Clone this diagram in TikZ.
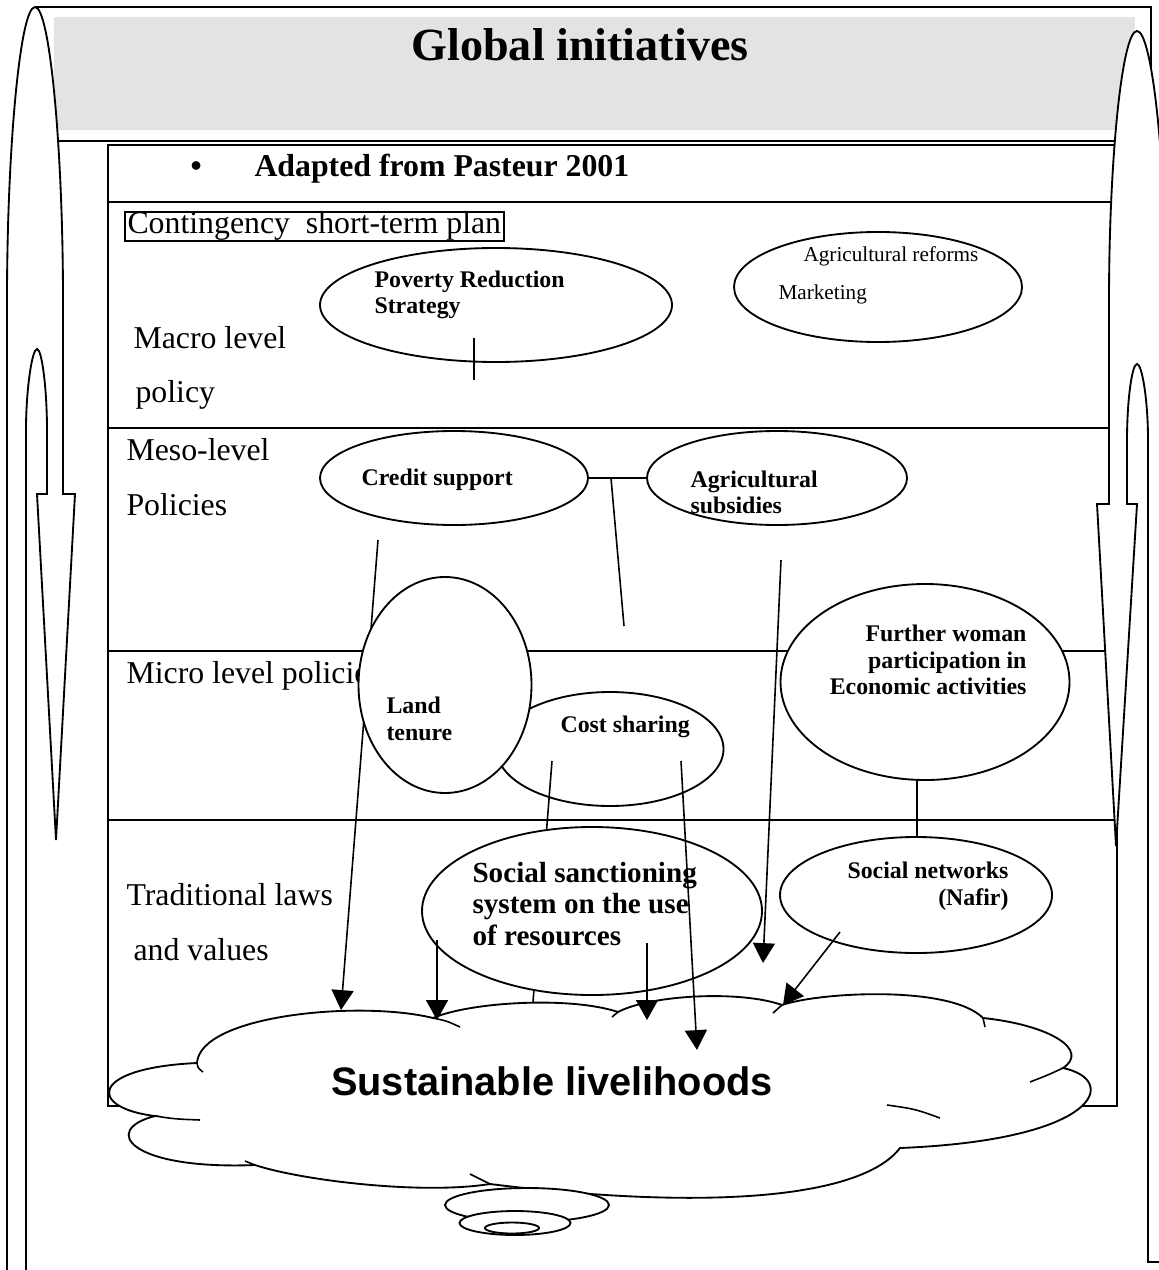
\documentclass[tikz,border=0pt]{standalone}
\usepackage{fontspec}
\setmainfont{Liberation Serif}
\newfontfamily\arialfont{Liberation Sans}
\usetikzlibrary{shapes.geometric,arrows.meta}
\definecolor{hdrgray}{RGB}{227,227,227}
\def\px#1{#1*0.3774pt}
\begin{document}
\begin{tikzpicture}[x=0.3774pt,y=-0.3774pt,
  ell/.style={draw, fill=white, ellipse, inner sep=0pt, line width=0.7pt},
  bt/.style={font=\bfseries\fontsize{9}{10}\selectfont, anchor=base west, inner sep=0pt},
  rtt/.style={font=\fontsize{12}{14}\selectfont, anchor=base west, inner sep=0pt},
  st/.style={font=\bfseries\fontsize{11}{12}\selectfont, anchor=base west, inner sep=0pt},
  ln/.style={line width=0.6pt},
  arr/.style={line width=0.6pt, -{Triangle[length=7.5pt,width=8.3pt]}},
  band/.style={draw, fill=white, line width=0.7pt},
  tbl/.style={line width=0.7pt}]
\useasboundingbox (0,0) rectangle (1158,1270);
% header
\fill[hdrgray] (54,17) rectangle (1135,130);
\draw[tbl] (35,7) -- (1151,7) -- (1151,1262);
\draw[tbl] (40,141) -- (1120,141);
% table
\draw[tbl] (108,145) rectangle (1117,1106);
\foreach \yy in {202,428,651,820} \draw[tbl] (108,\yy) -- (1117,\yy);
\node[font=\bfseries\fontsize{17.4}{20}\selectfont, anchor=base, inner sep=0pt] (title) at (580,61) {Global initiatives};
\node[font=\bfseries\fontsize{12}{14}\selectfont, anchor=base west, inner sep=0pt] (bul) at (190,177) {\textbullet};
\node[font=\bfseries\fontsize{12}{14}\selectfont, anchor=base west, inner sep=0pt] (adapt) at (254,177) {Adapted from Pasteur 2001};
\node[draw, line width=0.6pt, anchor=north west, inner sep=0pt, minimum width=\px{379}, minimum height=\px{29}] (cbox) at (124,211) {};
\node[rtt] (cont) at (127,234) {Contingency~ short-term plan};
\node[rtt] (mac1) at (133,348) {Macro level};
\node[rtt] (mac2) at (135,402) {policy};
\node[rtt] (mes1) at (126,460) {Meso-level};
\node[rtt] (mes2) at (126,515) {Policies};
\node[rtt] (mic) at (126,683) {Micro level policies};
\node[rtt] (tra1) at (126,905) {Traditional laws};
\node[rtt] (tra2) at (133,960) {and values};
% side U-turn arrows
\draw[band] (7,1280) -- (7,300) .. controls (7,150) and (20,7) .. (35,7)
  .. controls (50,7) and (63,150) .. (63,300) -- (63,494) -- (75,494) -- (56,840)
  -- (37,494) -- (47,494) -- (47,430) .. controls (47,390) and (42,349) .. (37,349)
  .. controls (32,349) and (26,390) .. (26,430) -- (26,1280) -- cycle;
\draw[band] (1166,1262) -- (1166,300) .. controls (1166,160) and (1152,31) .. (1137,31)
  .. controls (1122,31) and (1109,160) .. (1109,300) -- (1109,504) -- (1097,504) -- (1116,846)
  -- (1137,504) -- (1127,504) -- (1127,440) .. controls (1127,400) and (1132,364) .. (1137,364)
  .. controls (1142,364) and (1148,400) .. (1148,440) -- (1148,1262) -- cycle;
% connector ends
\coordinate (credS) at (378,540);
\coordinate (credT) at (341,1010);
\coordinate (subsS) at (781,560);
\coordinate (subsT) at (763,963);
\coordinate (jn) at (611,478);
\coordinate (jnE) at (624,626);
\draw[arr] (credS) -- (credT);
\draw[arr] (subsS) -- (subsT);
% ellipses
\node[ell, minimum width=\px{352}, minimum height=\px{114}] (pov) at (496,305) {};
\node[ell, minimum width=\px{288}, minimum height=\px{110}] (agr) at (878,287) {};
\node[ell, minimum width=\px{268}, minimum height=\px{94}] (cred) at (454,478) {};
\node[ell, minimum width=\px{260}, minimum height=\px{94}] (subs) at (777,478) {};
\draw[ln] (cred.east) -- (subs.west);
\draw[ln] (jn) -- (jnE);
\node[ell, minimum width=\px{227}, minimum height=\px{114}] (cost) at (610,749) {};
\node[ell, minimum width=\px{173}, minimum height=\px{216}] (land) at (445,685) {};
\node[ell, minimum width=\px{289}, minimum height=\px{196}] (woman) at (925,682) {};
\node[ell, minimum width=\px{272}, minimum height=\px{116}] (snet) at (916,895) {};
% ellipse texts
\node[bt] (p1) at (374,288) {Poverty Reduction};
\node[bt] (p2) at (374,314) {Strategy};
\node[font=\fontsize{8}{9}\selectfont, anchor=base west, inner sep=0pt] (a1) at (803,261) {Agricultural reforms};
\node[font=\fontsize{8}{9}\selectfont, anchor=base west, inner sep=0pt] (a2) at (778,300) {Marketing};
\node[bt] (c1) at (361,485) {Credit support};
\node[bt] (s1) at (690,487) {Agricultural};
\node[bt] (s2) at (690,513) {subsidies};
\node[bt] (l1) at (386,713) {Land};
\node[bt] (l2) at (386,740) {tenure};
\node[bt] (cs) at (560,732) {Cost sharing};
\node[bt, anchor=base east] (w1) at (1027,641) {Further woman};
\node[bt, anchor=base east] (w2) at (1027,668) {participation in};
\node[bt, anchor=base east] (w3) at (1027,694) {Economic activities};
\node[bt, anchor=base east] (n1) at (1009,878) {Social networks};
\node[bt, anchor=base east] (n2) at (1009,905) {(Nafir)};
% lines
\coordinate (povA) at (474,338);
\coordinate (povB) at (474,380);
\draw[ln] (povA) -- (povB);
\coordinate (costA) at (552,761);
\coordinate (costB) at (533,1002);
\draw[ln] (costA) -- (costB);
\coordinate (womA) at (917,780);
\coordinate (womB) at (917,837);
\draw[ln] (womA) -- (womB);
% social sanctioning
\node[ell, minimum width=\px{340}, minimum height=\px{168}] (sanc) at (592,911) {};
\node[st] (ss1) at (472,882) {Social sanctioning};
\node[st] (ss2) at (472,913) {system on the use};
\node[st] (ss3) at (472,945) {of resources};
% cloud
\draw[band] (155,1116) .. controls (88,1108) and (88,1068) .. (197,1063)
  .. controls (200,1015) and (360,1000) .. (433,1018)
  .. controls (470,1002) and (570,996) .. (618,1012)
  .. controls (650,995) and (740,990) .. (782,1005)
  .. controls (820,992) and (950,985) .. (983,1018)
  .. controls (1050,1025) and (1090,1050) .. (1063,1068)
  .. controls (1120,1080) and (1100,1140) .. (900,1148)
  .. controls (860,1200) and (700,1210) .. (490,1184)
  .. controls (420,1195) and (300,1180) .. (255,1165)
  .. controls (130,1170) and (100,1130) .. (155,1116) -- cycle;
\draw[ln] (155,1116) .. controls (175,1119) .. (200,1120);
\draw[ln] (197,1063) .. controls (198,1068) .. (203,1072);
\draw[ln] (433,1018) .. controls (447,1021) .. (460,1027);
\draw[ln] (618,1012) -- (612,1017);
\draw[ln] (782,1005) -- (773,1013);
\draw[ln] (983,1018) -- (985,1027);
\draw[ln] (1063,1068) .. controls (1048,1075) .. (1030,1082);
\draw[ln] (887,1105) .. controls (915,1109) .. (940,1118);
\draw[ln] (490,1184) .. controls (480,1179) .. (470,1174);
\draw[ln] (255,1165) -- (245,1161);
\node[font=\arialfont\bfseries\fontsize{15}{18}\selectfont, anchor=base, inner sep=0pt] (sl) at (552,1095) {Sustainable livelihoods};
% bubbles
\node[ell, minimum width=\px{164}, minimum height=\px{34}] (b1) at (527,1205) {};
\node[ell, minimum width=\px{111}, minimum height=\px{24}] (b2) at (515,1223) {};
\node[ell, minimum width=\px{54}, minimum height=\px{11}] (b3) at (512,1228) {};
% arrows onto cloud
\coordinate (sa1) at (437,940);
\coordinate (sa1T) at (437,1020);
\coordinate (sa2) at (647,943);
\coordinate (sa2T) at (647,1020);
\coordinate (costC) at (681,761);
\coordinate (costT) at (697,1050);
\coordinate (snA) at (840,932);
\coordinate (snT) at (783,1005);
\draw[arr] (sa1) -- (sa1T);
\draw[arr] (sa2) -- (sa2T);
\draw[arr] (costC) -- (costT);
\draw[arr] (snA) -- (snT);
\end{tikzpicture}
\end{document}
